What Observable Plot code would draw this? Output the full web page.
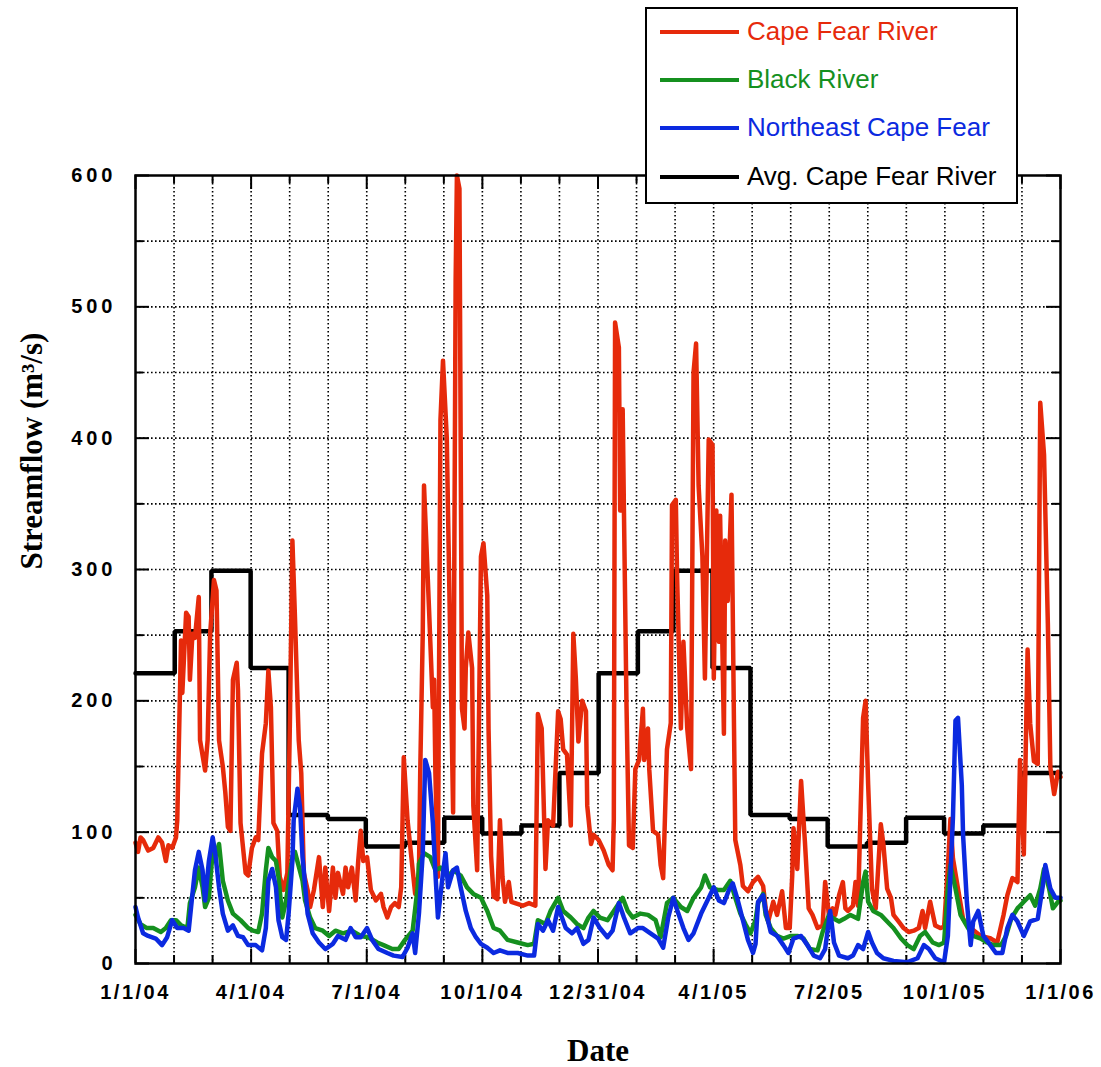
<!DOCTYPE html>
<html>
<head>
<meta charset="utf-8">
<script src="https://cdn.jsdelivr.net/npm/d3@7"></script>
<script src="https://cdn.jsdelivr.net/npm/@observablehq/plot@0.6"></script>
<style>
  body { margin: 0; background: #fff; }
  #wrap { position: relative; width: 1101px; height: 1067px; }
  #legend {
    position: absolute; left: 645px; top: 7px; width: 373px; height: 197px;
    box-sizing: border-box; border: 2px solid #000; background: #fff;
    font-family: "Liberation Sans", Arial, sans-serif; font-size: 26px;
  }
  #legend .row { position: absolute; left: 0; height: 0; }
  #legend .swatch { position: absolute; left: 13px; width: 79px; height: 4px; top: -2px; }
  #legend .lab { position: absolute; left: 100px; top: 0; transform: translateY(-52%); white-space: nowrap; line-height: 1; }
</style>
</head>
<body>
<div id="wrap"><div id="legend"></div></div>
<script>
// Daily streamflow, 2004-2005 (days counted from 1 Jan 2004, flow in m3/s)
const capeFearDay = [0,2,4,6,10,14,18,21,24,26, 29,32,33,36,37,40,42,43,45,47, 50,51,55,57,59,62,64,66,69,71, 73,75,77,80,81,83,87,89,92,95, 97,100,103,105,107,109,112,114,117,120, 122,124,126,129,131,133,136,138,141,145, 148,150,153,156,158,160,164,166,168,171, 174,176,178,180,183,186,190,194,196,199, 202,205,208,210,212,215,218,221,224,225, 227,228,232,235,236,237,239,241,243,246, 251,253,254,256,258,260,261,263,266,267, 270,273,275,278,279,281,283,286,288,290, 292,295,297,300,306,311,316,318,321,324, 326,330,334,336,338,341,344,346,348,350, 353,356,357,360,362,366,370,374,377,378, 379,382,383,385,386,388,390,393,395,398, 401,402,405,406,409,413,415,417,420,423, 424,427,428,431,433,436,439,441,443,445, 448,450,453,456,457,459,461,462,465,466, 468,471,473,474,478,480,484,488,492,496, 498,500,504,507,511,514,517,519,520,523, 526,528,529,532,535,539,543,545,548,551, 553,556,559,561,563,567,569,571,575,577, 579,582,585,589,591,594,597,599,603,607, 611,615,619,622,624,628,632,636,639,642, 644,646,650,654,660,668,676,681,686,689, 693,697,699,702,705,707,710,713,715,718, 721,723,726,729,731];
const capeFearFlow = [92,85,96,94,86,88,96,92,78,90, 88,96,109,246,206,267,264,216,251,248, 279,170,147,170,251,292,284,170,150,130, 104,101,216,229,208,107,69,67,88,96, 94,160,183,223,195,107,101,66,56,69, 183,322,264,170,145,69,56,43,56,81, 43,73,40,73,50,69,53,73,58,73, 48,78,101,78,81,56,48,53,43,35, 43,46,43,58,157,109,81,53,69,145, 251,364,269,195,216,145,66,414,459,400, 115,520,600,590,194,179,225,252,225,120, 71,310,320,280,179,82,51,49,109,66, 47,62,47,46,44,46,44,190,179,72, 109,105,192,186,163,159,105,251,217,169, 200,192,120,91,98,94,86,75,71,109, 488,469,345,422,345,198,90,88,148,155, 194,155,179,148,101,98,75,65,163,183, 349,353,295,179,245,179,148,450,472,364, 310,217,399,395,217,345,245,341,175,322, 276,357,179,94,75,59,55,62,66,59, 42,32,47,37,55,27,27,67,103,72, 139,108,93,42,37,27,29,62,37,42, 37,52,62,42,40,44,62,44,187,200, 136,57,42,106,91,57,50,37,32,27, 24,25,27,40,27,47,29,27,28,73, 110,80,57,34,27,21,19,16,37,52, 65,62,155,83,239,183,154,152,427,387, 259,149,129,146,142];

const blackRiverDay = [0,4,9,14,20,24,28,32,36,41, 43,47,50,53,55,58,61,63,66,69, 73,77,83,89,93,97,100,103,105,108, 111,113,116,119,121,124,126,132,134,138, 142,148,153,158,164,171,178,184,191,196, 203,208,213,219,223,224,228,233,237,241, 247,251,257,262,267,273,278,283,288,294, 302,310,315,318,324,328,334,338,344,349, 354,358,362,367,373,378,385,389,393,399, 405,411,415,420,425,431,436,441,447,450, 454,460,465,470,474,478,482,486,490,492, 496,498,502,507,512,518,523,528,533,539, 543,548,552,556,560,565,571,575,577,579, 583,589,594,599,605,610,615,620,624,630, 635,639,642,644,648,652,658,662,668,673, 678,684,688,692,697,702,707,711,715,718, 722,725,729,731];
const blackRiverFlow = [37,30,27,27,24,27,33,33,29,27, 46,58,73,58,43,50,86,81,91,63, 48,38,33,27,25,24,38,71,88,81, 78,66,35,48,61,81,85,63,48,35, 27,25,21,25,23,25,21,20,16,14, 11,11,18,25,58,76,84,81,71,73, 66,71,67,58,53,50,40,27,25,18, 16,14,15,33,30,40,50,40,35,30, 27,35,40,35,33,40,50,40,35,38, 37,33,20,46,50,43,40,50,58,67, 58,56,56,63,50,38,30,23,33,46, 53,37,27,21,19,21,21,19,11,10, 24,37,34,32,34,37,34,62,70,47, 40,37,32,27,19,14,11,21,24,16, 14,16,57,75,57,37,27,21,19,16, 14,14,21,34,42,47,52,44,57,72, 57,42,47,48];

const northeastDay = [0,2,6,10,16,21,25,29,33,38, 42,45,47,50,53,55,58,61,63,66, 69,73,77,81,85,89,95,100,103,105, 108,111,113,116,119,121,124,125,128,130, 132,133,136,140,145,150,156,160,166,170, 174,178,183,187,192,199,204,211,215,219, 221,224,227,229,232,235,237,239,243,245, 247,251,254,257,261,265,269,273,278,283, 288,294,302,310,315,318,322,326,330,334, 340,345,349,354,358,362,367,373,377,382, 386,391,397,401,407,413,417,421,425,429, 433,437,441,447,452,457,461,465,469,472, 476,480,484,488,490,492,496,498,502,507, 512,516,520,526,531,536,541,545,549,552, 556,563,567,571,575,579,582,586,591,599, 610,618,623,627,632,639,642,646,648,650, 653,654,657,660,662,666,670,674,680,685, 689,693,697,702,707,713,717,719,723,727, 731];
const northeastFlow = [43,35,23,21,19,14,20,33,27,27, 25,53,71,85,71,48,78,96,84,58, 38,25,29,21,20,14,14,10,27,63, 72,58,33,20,18,38,78,109,133,119, 81,71,38,23,16,11,15,21,18,27, 20,20,27,18,11,8,6,5,12,23, 8,38,84,155,145,107,69,35,69,84, 58,71,73,58,40,27,20,15,12,8, 10,8,8,6,6,30,25,33,25,43, 27,23,27,15,18,35,27,20,25,46, 35,23,27,27,23,19,12,35,50,38, 27,18,23,38,48,58,48,46,56,61, 48,33,18,8,15,47,52,40,24,21, 14,8,19,21,14,6,4,11,40,16, 6,4,6,14,11,24,16,8,4,2, 1,4,14,11,4,1,21,111,185,187, 136,98,47,14,32,40,21,16,8,8, 27,37,32,21,32,34,59,75,57,50, 50];

// Long-term monthly mean flow of the Cape Fear River, Jan..Dec
const avgMonthlyFlow = [221, 253, 299, 225, 113, 110, 89, 92, 111, 99, 105, 145];

// Axis text
const xTickLabels = ["1/1/04", "4/1/04", "7/1/04", "10/1/04", "12/31/04", "4/1/05", "7/2/05", "10/1/05", "1/1/06"];
const yTickValues = [0, 100, 200, 300, 400, 500, 600];

// Series names and colours (legend order)
const seriesNames = ["Cape Fear River", "Black River", "Northeast Cape Fear", "Avg. Cape Fear River"];
const seriesColors = ["#e62a0b", "#15901f", "#0b2ae0", "#000000"];

// ---------------------------------------------------------------
const start = new Date(Date.UTC(2004, 0, 1));
const end = new Date(Date.UTC(2006, 0, 1));
const spanDays = d3.utcDay.count(start, end);            // 731
const majorDays = d3.range(9).map(i => i * spanDays / 8);
const gridDays = d3.range(25).map(i => i * spanDays / 24);
const minorDays = gridDays.filter((d, i) => i % 3 !== 0);
const yGrid = d3.range(0, 601, 50);
const yMinor = yGrid.filter(v => v % 100 !== 0);
const labelByDay = new Map(majorDays.map((d, i) => [d, xTickLabels[i]]));

const rows = (days, flows) => days.map((d, i) => ({day: d, flow: flows[i]}));
const capeFear = rows(capeFearDay, capeFearFlow);
const blackRiver = rows(blackRiverDay, blackRiverFlow);
const northeast = rows(northeastDay, northeastFlow);

const avgRows = d3.utcMonth.range(start, end).map((m, i) => ({
  day: d3.utcDay.count(start, m), flow: avgMonthlyFlow[i % 12]
}));
avgRows.push({day: spanDays, flow: avgMonthlyFlow[11]});

const W = 1101, H = 1067;
const mL = 135, mR = 41, mT = 175, mB = 104;
const fw = W - mL - mR, fh = H - mT - mB;
const majorLen = 14, minorLen = 8;

const gridStyle = {stroke: "#000", strokeWidth: 1.6, strokeDasharray: "1.6,2.4"};
const tickStyle = {stroke: "#000", strokeWidth: 2};
const lineWidth = 4.5;

const chart = Plot.plot({
  width: W, height: H,
  marginLeft: mL, marginRight: mR, marginTop: mT, marginBottom: mB,
  x: {domain: [0, spanDays]},
  y: {domain: [0, 600]},
  style: {background: "#fff", fontFamily: "'Liberation Sans', Arial, sans-serif", color: "#000"},
  marks: [
    // dotted grid
    Plot.ruleY(yGrid.slice(1, -1), gridStyle),
    Plot.ruleX(gridDays.slice(1, -1), gridStyle),
    // inward tick marks on all four sides
    Plot.ruleY(yTickValues, {...tickStyle, insetRight: fw - majorLen}),
    Plot.ruleY(yMinor, {...tickStyle, insetRight: fw - minorLen}),
    Plot.ruleY(yTickValues, {...tickStyle, insetLeft: fw - majorLen}),
    Plot.ruleY(yMinor, {...tickStyle, insetLeft: fw - minorLen}),
    Plot.ruleX(majorDays, {...tickStyle, insetTop: fh - majorLen}),
    Plot.ruleX(minorDays, {...tickStyle, insetTop: fh - minorLen}),
    Plot.ruleX(majorDays, {...tickStyle, insetBottom: fh - majorLen}),
    Plot.ruleX(minorDays, {...tickStyle, insetBottom: fh - minorLen}),
    // series
    Plot.line(avgRows, {x: "day", y: "flow", curve: "step-after", stroke: seriesColors[3], strokeWidth: lineWidth, strokeLinejoin: "miter"}),
    Plot.line(capeFear, {x: "day", y: "flow", stroke: seriesColors[0], strokeWidth: lineWidth}),
    Plot.line(blackRiver, {x: "day", y: "flow", stroke: seriesColors[1], strokeWidth: lineWidth}),
    Plot.line(northeast, {x: "day", y: "flow", stroke: seriesColors[2], strokeWidth: lineWidth}),
    Plot.frame({stroke: "#000", strokeWidth: 2.5}),
    // axes
    Plot.axisY({ticks: yTickValues, tickSize: 0, tickPadding: 19, fontSize: 20, fontWeight: "bold", label: null}),
    Plot.axisX({ticks: majorDays, tickFormat: d => labelByDay.get(d), tickSize: 0, tickPadding: 21, fontSize: 20, fontWeight: "bold", label: null}),
    Plot.text(["Streamflow (m³/s)"], {text: d => d, frameAnchor: "left", dx: -103, rotate: -90, fontSize: 31, fontWeight: "bold", fontFamily: "'Liberation Serif', 'Times New Roman', serif"}),
    Plot.text(["Date"], {text: d => d, frameAnchor: "bottom", dy: 97, fontSize: 31, fontWeight: "bold", fontFamily: "'Liberation Serif', 'Times New Roman', serif"})
  ]
});

d3.select(chart).selectAll('g[aria-label="y-axis tick label"] text').attr("letter-spacing", 4);
d3.select(chart).selectAll('g[aria-label="x-axis tick label"] text').attr("letter-spacing", 2.5);

const wrap = document.getElementById("wrap");
wrap.insertBefore(chart, wrap.firstChild);

// legend box
const legend = d3.select("#legend");
const rowTops = [23, 71, 119, 168];
seriesNames.forEach((name, i) => {
  const row = legend.append("div").attr("class", "row").style("top", rowTops[i] + "px");
  row.append("div").attr("class", "swatch").style("background", seriesColors[i]);
  row.append("div").attr("class", "lab").style("color", seriesColors[i]).text(name);
});
</script>
</body>
</html>
